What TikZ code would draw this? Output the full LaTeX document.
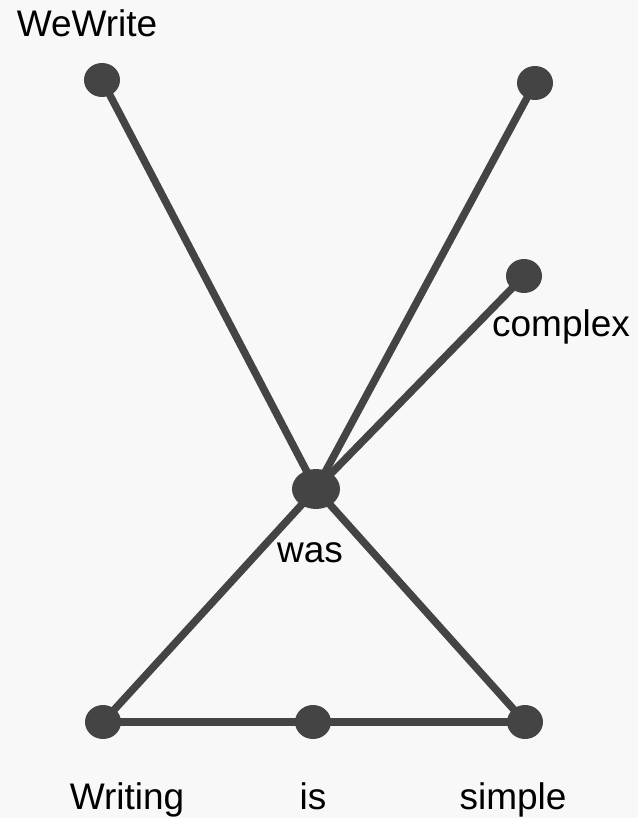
\documentclass[tikz,border=0pt]{standalone}
\usepackage{fontspec}
\setmainfont{Liberation Sans}
\usepackage{tikz}
\usetikzlibrary{positioning,shapes.geometric}
\definecolor{dotgray}{RGB}{68,68,68}
\definecolor{paper}{RGB}{248,248,248}

\tikzset{
    worddot/.style={ellipse, fill=dotgray, inner sep=0pt, minimum width=36pt, minimum height=34pt},
    hubdot/.style={worddot, minimum width=48pt, minimum height=40pt},
    wordlabel/.style={anchor=base, inner sep=0pt, font=\fontsize{37}{42}\selectfont},
    wordlink/.style={draw=dotgray, line width=7.5pt}
}

\begin{document}
\begin{tikzpicture}[x=1pt, y=-1pt]
    \fill[paper] (0,0) rectangle (638,818);
    \useasboundingbox (0,0) rectangle (638,818);

    % word positions
    \coordinate (wewrite) at (102,80);
    \coordinate (top) at (535,83);
    \coordinate (complex) at (524,276);
    \coordinate (was) at (316,489);
    \coordinate (writing) at (103,722);
    \coordinate (is) at (313,722);
    \coordinate (simple) at (525,722);

    % links
    \draw[wordlink] (wewrite) -- (was);
    \draw[wordlink] (top) -- (was);
    \draw[wordlink] (complex) -- (was);
    \draw[wordlink] (was) -- (writing);
    \draw[wordlink] (was) -- (simple);
    \draw[wordlink] (writing) -- (is);
    \draw[wordlink] (is) -- (simple);

    % dots
    \foreach \d in {wewrite,top,complex,writing,is,simple}
        \node[worddot] (\d dot) at (\d) {};
    \node[hubdot] (wasdot) at (was) {};

    % labels
    \node[wordlabel] (wewritetext) at (87,37) {WeWrite};
    \node[wordlabel] (complextext) at (561,336) {complex};
    \node[wordlabel] (wastext) at (310,562) {was};
    \node[wordlabel] (writingtext) at (127,809) {Writing};
    \node[wordlabel] (istext) at (313,809) {is};
    \node[wordlabel] (simpletext) at (513,809) {simple};
\end{tikzpicture}
\end{document}
